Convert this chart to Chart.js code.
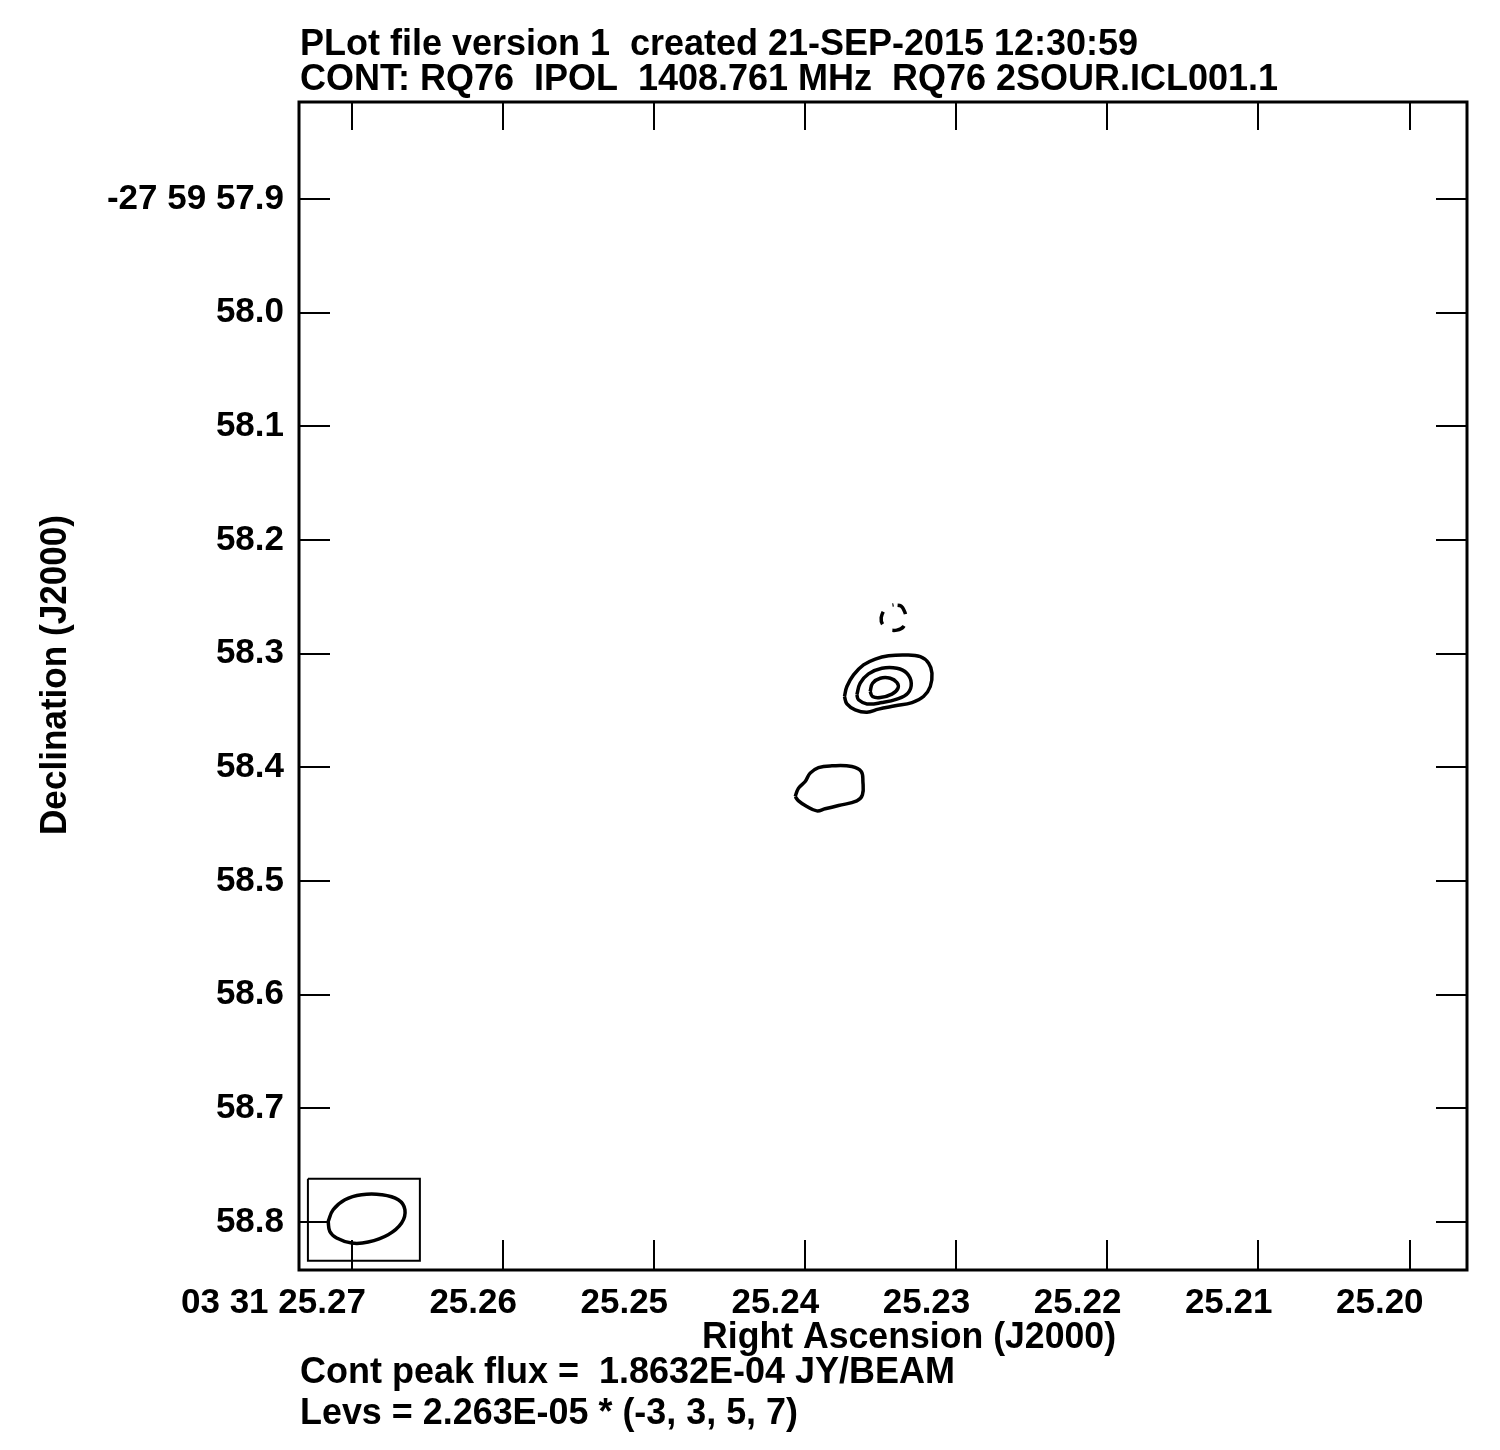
<!DOCTYPE html>
<html lang="en">
<head>
  <meta charset="UTF-8">
  <title>RQ76 IPOL contour plot</title>
  <script src="https://cdn.jsdelivr.net/npm/chart.js"></script>
  <style>
    body { margin: 0; background: #fff; }
    canvas { display: block; }
  </style>
</head>
<body>
  <canvas id="contourChart" width="1500" height="1450"></canvas>
  <script>
    // axis ranges (RA seconds, Dec arcsec) - both run reversed on the plot
    const xRange = [25.2735, 25.1962];
    const yRange = [57.8147, 58.8422];
    const xTicks = [25.27, 25.26, 25.25, 25.24, 25.23, 25.22, 25.21, 25.20];
    const xTickLabels = ['03 31 25.27', '25.26', '25.25', '25.24', '25.23', '25.22', '25.21', '25.20'];
    const yTicks = [57.9, 58.0, 58.1, 58.2, 58.3, 58.4, 58.5, 58.6, 58.7, 58.8];
    const yTickLabels = ['-27 59 57.9', '58.0', '58.1', '58.2', '58.3', '58.4', '58.5', '58.6', '58.7', '58.8'];

    // contours: [RA s, Dec arcsec]
    const contourNeg3 = [
      [25.23415, 58.2571], [25.23366, 58.2580], [25.23342, 58.2630], [25.23333, 58.2688],
      [25.23349, 58.2762], [25.23393, 58.2793], [25.23448, 58.2788], [25.23488, 58.2741],
      [25.23497, 58.2683], [25.23477, 58.2615], [25.23448, 58.2580], [25.23415, 58.2571]
    ];
    const contour3a = [
      [25.23740, 58.3377], [25.23724, 58.3289], [25.23680, 58.3187], [25.23614, 58.3099],
      [25.23536, 58.3048], [25.23448, 58.3019], [25.23338, 58.3011], [25.23238, 58.3026],
      [25.23183, 58.3084], [25.23161, 58.3172], [25.23172, 58.3289], [25.23217, 58.3377],
      [25.23293, 58.3430], [25.23404, 58.3459], [25.23515, 58.3488], [25.23591, 58.3515],
      [25.23669, 58.3494], [25.23724, 58.3442], [25.23740, 58.3377]
    ];
    const contour5 = [
      [25.23658, 58.3362], [25.23636, 58.3260], [25.23581, 58.3178], [25.23492, 58.3128],
      [25.23393, 58.3128], [25.23327, 58.3172], [25.23298, 58.3260], [25.23320, 58.3347],
      [25.23393, 58.3400], [25.23492, 58.3430], [25.23591, 58.3442], [25.23647, 58.3406],
      [25.23658, 58.3362]
    ];
    const contour7 = [
      [25.23570, 58.3333], [25.23554, 58.3260], [25.23503, 58.3216], [25.23437, 58.3216],
      [25.23393, 58.3254], [25.23386, 58.3304], [25.23426, 58.3356], [25.23503, 58.3386],
      [25.23554, 58.3377], [25.23570, 58.3333]
    ];
    const contour3b = [
      [25.24066, 58.4257], [25.24044, 58.4183], [25.24000, 58.4125], [25.23967, 58.4051],
      [25.23912, 58.4002], [25.23823, 58.3987], [25.23691, 58.3993], [25.23629, 58.4037],
      [25.23618, 58.4125], [25.23621, 58.4242], [25.23658, 58.4295], [25.23779, 58.4336],
      [25.23868, 58.4365], [25.23923, 58.4383], [25.23989, 58.4345], [25.24044, 58.4295],
      [25.24066, 58.4257]
    ];
    const beamEllipse = [
      [25.27157, 58.7995], [25.27124, 58.7892], [25.27046, 58.7804], [25.26936, 58.7760],
      [25.26803, 58.7760], [25.26693, 58.7804], [25.26649, 58.7892], [25.26671, 58.8009],
      [25.26760, 58.8112], [25.26892, 58.8176], [25.27002, 58.8185], [25.27101, 58.8141],
      [25.27146, 58.8083], [25.27157, 58.7995]
    ];
    const beamBox = [
      [25.27291, 58.7619], [25.26550, 58.7619], [25.26550, 58.8340], [25.27291, 58.8340],
      [25.27291, 58.7619]
    ];

    const titleLines = [
      'PLot file version 1  created 21-SEP-2015 12:30:59',
      'CONT: RQ76  IPOL  1408.761 MHz  RQ76 2SOUR.ICL001.1'
    ];
    const footLines = [
      'Cont peak flux =  1.8632E-04 JY/BEAM',
      'Levs = 2.263E-05 * (-3, 3, 5, 7)'
    ];

    const FONT = '"Liberation Sans", Arial, sans-serif';
    const toPts = arr => arr.map(p => ({ x: p[0], y: p[1] }));
    const line = (arr, extra) => Object.assign({
      data: toPts(arr),
      showLine: true,
      pointRadius: 0,
      borderColor: '#000',
      borderWidth: 3.5,
      tension: 0.4,
      fill: false
    }, extra || {});

    // frame, inward ticks on all sides, and the text around the plot
    const framePlugin = {
      id: 'aipsFrame',
      afterDraw(chart) {
        const ctx = chart.ctx;
        const a = chart.chartArea;
        const xs = chart.scales.x, ys = chart.scales.y;
        ctx.save();
        ctx.strokeStyle = '#000';
        ctx.lineWidth = 2;
        ctx.beginPath();
        xTicks.forEach(v => {
          const px = Math.round(xs.getPixelForValue(v));
          ctx.moveTo(px, a.top); ctx.lineTo(px, a.top + 28);
          ctx.moveTo(px, a.bottom); ctx.lineTo(px, a.bottom - 30);
        });
        yTicks.forEach(v => {
          const py = Math.round(ys.getPixelForValue(v));
          ctx.moveTo(a.left, py); ctx.lineTo(a.left + 31, py);
          ctx.moveTo(a.right, py); ctx.lineTo(a.right - 31, py);
        });
        ctx.stroke();
        ctx.lineWidth = 3;
        ctx.strokeRect(a.left, a.top, a.right - a.left, a.bottom - a.top);

        ctx.fillStyle = '#000';
        ctx.textBaseline = 'alphabetic';
        ctx.textAlign = 'left';
        ctx.font = 'bold 36px ' + FONT;
        ctx.fillText(titleLines[0], 300, 55, 838);
        ctx.fillText(titleLines[1], 300, 90, 978);
        ctx.fillText(footLines[0], 300, 1383, 655);
        ctx.fillText(footLines[1], 300, 1424, 498);
        ctx.textAlign = 'center';
        ctx.fillText('Right Ascension (J2000)', 909, 1348, 414);
        ctx.translate(66, 675);
        ctx.rotate(-Math.PI / 2);
        ctx.fillText('Declination (J2000)', 0, 0, 320);
        ctx.restore();
      }
    };

    new Chart(document.getElementById('contourChart'), {
      type: 'scatter',
      data: {
        datasets: [
          line(contourNeg3, { borderDash: [13, 12], borderDashOffset: 21, tension: 0.3 }),
          line(contour3a),
          line(contour5),
          line(contour7),
          line(contour3b),
          line(beamEllipse),
          line(beamBox, { tension: 0, borderWidth: 2 })
        ]
      },
      options: {
        responsive: false,
        devicePixelRatio: 1,
        animation: false,
        layout: { padding: { top: 102, right: 33, left: 0, bottom: 0 } },
        plugins: {
          legend: { display: false },
          tooltip: { enabled: false }
        },
        scales: {
          x: {
            type: 'linear',
            reverse: true,
            min: xRange[1],
            max: xRange[0],
            border: { display: false },
            grid: { display: false, drawTicks: false },
            afterBuildTicks: s => { s.ticks = xTicks.map(v => ({ value: v })); },
            afterFit: s => { s.height = 180; },
            ticks: {
              align: 'end',
              labelOffset: 14,
              padding: 12,
              color: '#000',
              font: { family: FONT, size: 35, weight: 'bold' },
              maxRotation: 0,
              autoSkip: false,
              callback: (v, i) => xTickLabels[i]
            }
          },
          y: {
            type: 'linear',
            reverse: true,
            min: yRange[0],
            max: yRange[1],
            border: { display: false },
            grid: { display: false, drawTicks: false },
            afterBuildTicks: s => { s.ticks = yTicks.map(v => ({ value: v })); },
            afterFit: s => { s.width = 299; },
            ticks: {
              padding: 15,
              color: '#000',
              font: { family: FONT, size: 35, weight: 'bold' },
              autoSkip: false,
              callback: (v, i) => yTickLabels[i]
            }
          }
        }
      },
      plugins: [framePlugin]
    });
  </script>
</body>
</html>
